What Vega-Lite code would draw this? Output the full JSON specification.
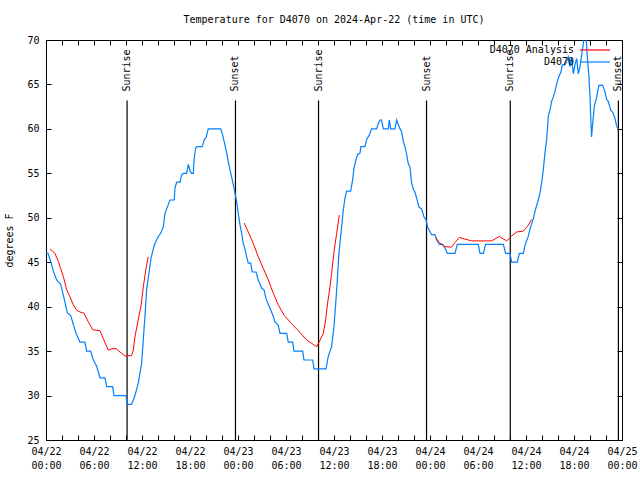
{
  "$schema": "https://vega.github.io/schema/vega-lite/v6.json",
  "autosize": "none",
  "width": 576,
  "height": 400,
  "padding": {"left": 46, "top": 40, "right": 18, "bottom": 40},
  "background": "white",
  "title": {"text": "Temperature for D4070 on 2024-Apr-22 (time in UTC)", "font": "DejaVu Sans Mono", "fontSize": 10, "fontWeight": "normal", "color": "black", "offset": 10, "anchor": "middle"},
  "config": {
    "font": "DejaVu Sans Mono",
    "view": {"stroke": "black", "strokeWidth": 1},
    "axis": {"grid": false, "domainColor": "black", "tickColor": "black", "labelColor": "black", "labelFont": "DejaVu Sans Mono", "labelFontSize": 10, "titleFont": "DejaVu Sans Mono", "titleFontSize": 10, "titleFontWeight": "normal", "titleColor": "black", "tickSize": -5, "domainWidth": 1, "tickWidth": 1, "tickCount": 100}
  },
  "datasets": {
    "blue": [
      {"t": "2024-04-22T00:00:00Z", "v": 46}, {"t": "2024-04-22T00:15:00Z", "v": 46}, {"t": "2024-04-22T00:37:00Z", "v": 45}, {"t": "2024-04-22T00:55:00Z", "v": 44},
      {"t": "2024-04-22T01:20:00Z", "v": 43}, {"t": "2024-04-22T01:50:00Z", "v": 42.5}, {"t": "2024-04-22T02:15:00Z", "v": 41}, {"t": "2024-04-22T02:40:00Z", "v": 39.3},
      {"t": "2024-04-22T03:05:00Z", "v": 39}, {"t": "2024-04-22T03:25:00Z", "v": 38}, {"t": "2024-04-22T03:45:00Z", "v": 37}, {"t": "2024-04-22T04:15:00Z", "v": 36},
      {"t": "2024-04-22T04:52:00Z", "v": 36}, {"t": "2024-04-22T05:05:00Z", "v": 35}, {"t": "2024-04-22T05:35:00Z", "v": 35}, {"t": "2024-04-22T05:55:00Z", "v": 34},
      {"t": "2024-04-22T06:20:00Z", "v": 33.3}, {"t": "2024-04-22T06:45:00Z", "v": 32}, {"t": "2024-04-22T07:22:00Z", "v": 32}, {"t": "2024-04-22T07:35:00Z", "v": 31},
      {"t": "2024-04-22T08:20:00Z", "v": 31}, {"t": "2024-04-22T08:30:00Z", "v": 30}, {"t": "2024-04-22T10:00:00Z", "v": 30}, {"t": "2024-04-22T10:10:00Z", "v": 29},
      {"t": "2024-04-22T10:42:00Z", "v": 29}, {"t": "2024-04-22T11:07:00Z", "v": 30}, {"t": "2024-04-22T11:32:00Z", "v": 31.4}, {"t": "2024-04-22T11:57:00Z", "v": 33.6},
      {"t": "2024-04-22T12:22:00Z", "v": 38.9}, {"t": "2024-04-22T12:35:00Z", "v": 42}, {"t": "2024-04-22T12:55:00Z", "v": 44.1}, {"t": "2024-04-22T13:07:00Z", "v": 45.4},
      {"t": "2024-04-22T13:25:00Z", "v": 46.5}, {"t": "2024-04-22T13:37:00Z", "v": 47.1}, {"t": "2024-04-22T14:02:00Z", "v": 47.9}, {"t": "2024-04-22T14:22:00Z", "v": 48.3},
      {"t": "2024-04-22T14:40:00Z", "v": 49}, {"t": "2024-04-22T14:52:00Z", "v": 50.5}, {"t": "2024-04-22T15:05:00Z", "v": 51}, {"t": "2024-04-22T15:30:00Z", "v": 52},
      {"t": "2024-04-22T16:02:00Z", "v": 52}, {"t": "2024-04-22T16:07:00Z", "v": 53.3}, {"t": "2024-04-22T16:20:00Z", "v": 54}, {"t": "2024-04-22T16:45:00Z", "v": 54},
      {"t": "2024-04-22T16:57:00Z", "v": 54.8}, {"t": "2024-04-22T17:10:00Z", "v": 55}, {"t": "2024-04-22T17:35:00Z", "v": 55}, {"t": "2024-04-22T17:47:00Z", "v": 56},
      {"t": "2024-04-22T18:00:00Z", "v": 55.3}, {"t": "2024-04-22T18:12:00Z", "v": 55}, {"t": "2024-04-22T18:25:00Z", "v": 55}, {"t": "2024-04-22T18:30:00Z", "v": 56.5},
      {"t": "2024-04-22T18:42:00Z", "v": 57.8}, {"t": "2024-04-22T18:50:00Z", "v": 58}, {"t": "2024-04-22T19:32:00Z", "v": 58}, {"t": "2024-04-22T19:47:00Z", "v": 58.8},
      {"t": "2024-04-22T20:00:00Z", "v": 59}, {"t": "2024-04-22T20:17:00Z", "v": 60}, {"t": "2024-04-22T21:50:00Z", "v": 60}, {"t": "2024-04-22T22:05:00Z", "v": 59.3},
      {"t": "2024-04-22T22:22:00Z", "v": 58.2}, {"t": "2024-04-22T22:35:00Z", "v": 57.3}, {"t": "2024-04-22T22:47:00Z", "v": 56.3}, {"t": "2024-04-22T23:00:00Z", "v": 55.4},
      {"t": "2024-04-22T23:12:00Z", "v": 54.6}, {"t": "2024-04-22T23:25:00Z", "v": 53.7}, {"t": "2024-04-22T23:37:00Z", "v": 52.8}, {"t": "2024-04-22T23:50:00Z", "v": 51.8},
      {"t": "2024-04-23T00:02:00Z", "v": 50.5}, {"t": "2024-04-23T00:15:00Z", "v": 49.2}, {"t": "2024-04-23T00:27:00Z", "v": 48.3}, {"t": "2024-04-23T00:40:00Z", "v": 47.1},
      {"t": "2024-04-23T00:52:00Z", "v": 46.5}, {"t": "2024-04-23T01:05:00Z", "v": 45.6}, {"t": "2024-04-23T01:17:00Z", "v": 44.9}, {"t": "2024-04-23T01:35:00Z", "v": 44.9},
      {"t": "2024-04-23T01:47:00Z", "v": 43.9}, {"t": "2024-04-23T02:15:00Z", "v": 43.9}, {"t": "2024-04-23T02:32:00Z", "v": 43}, {"t": "2024-04-23T02:57:00Z", "v": 42.1},
      {"t": "2024-04-23T03:15:00Z", "v": 41.9}, {"t": "2024-04-23T03:30:00Z", "v": 40.9}, {"t": "2024-04-23T03:55:00Z", "v": 40}, {"t": "2024-04-23T04:20:00Z", "v": 39.1},
      {"t": "2024-04-23T04:37:00Z", "v": 38.3}, {"t": "2024-04-23T05:02:00Z", "v": 37.9}, {"t": "2024-04-23T05:15:00Z", "v": 37}, {"t": "2024-04-23T06:05:00Z", "v": 37},
      {"t": "2024-04-23T06:17:00Z", "v": 36}, {"t": "2024-04-23T06:50:00Z", "v": 36}, {"t": "2024-04-23T07:00:00Z", "v": 35}, {"t": "2024-04-23T08:05:00Z", "v": 35},
      {"t": "2024-04-23T08:15:00Z", "v": 34}, {"t": "2024-04-23T09:20:00Z", "v": 34}, {"t": "2024-04-23T09:30:00Z", "v": 33}, {"t": "2024-04-23T11:00:00Z", "v": 33},
      {"t": "2024-04-23T11:17:00Z", "v": 34.4}, {"t": "2024-04-23T11:42:00Z", "v": 35.5}, {"t": "2024-04-23T12:00:00Z", "v": 37.8}, {"t": "2024-04-23T12:15:00Z", "v": 40.8},
      {"t": "2024-04-23T12:25:00Z", "v": 43}, {"t": "2024-04-23T12:37:00Z", "v": 46}, {"t": "2024-04-23T12:50:00Z", "v": 47.9}, {"t": "2024-04-23T13:00:00Z", "v": 49.4},
      {"t": "2024-04-23T13:10:00Z", "v": 50.9}, {"t": "2024-04-23T13:22:00Z", "v": 52.2}, {"t": "2024-04-23T13:35:00Z", "v": 53}, {"t": "2024-04-23T14:05:00Z", "v": 53},
      {"t": "2024-04-23T14:20:00Z", "v": 54.3}, {"t": "2024-04-23T14:30:00Z", "v": 55.6}, {"t": "2024-04-23T14:45:00Z", "v": 56.5}, {"t": "2024-04-23T14:57:00Z", "v": 57.1},
      {"t": "2024-04-23T15:15:00Z", "v": 57.3}, {"t": "2024-04-23T15:22:00Z", "v": 58}, {"t": "2024-04-23T15:52:00Z", "v": 58}, {"t": "2024-04-23T16:05:00Z", "v": 58.8},
      {"t": "2024-04-23T16:25:00Z", "v": 59.3}, {"t": "2024-04-23T16:42:00Z", "v": 60}, {"t": "2024-04-23T17:20:00Z", "v": 60}, {"t": "2024-04-23T17:32:00Z", "v": 60.6},
      {"t": "2024-04-23T17:45:00Z", "v": 61}, {"t": "2024-04-23T17:57:00Z", "v": 61}, {"t": "2024-04-23T18:10:00Z", "v": 60}, {"t": "2024-04-23T18:47:00Z", "v": 60},
      {"t": "2024-04-23T18:55:00Z", "v": 61}, {"t": "2024-04-23T19:05:00Z", "v": 60}, {"t": "2024-04-23T19:37:00Z", "v": 60}, {"t": "2024-04-23T19:50:00Z", "v": 61},
      {"t": "2024-04-23T20:02:00Z", "v": 60.5}, {"t": "2024-04-23T20:15:00Z", "v": 60}, {"t": "2024-04-23T20:27:00Z", "v": 59.7}, {"t": "2024-04-23T20:40:00Z", "v": 58.6},
      {"t": "2024-04-23T20:52:00Z", "v": 58}, {"t": "2024-04-23T21:05:00Z", "v": 57.1}, {"t": "2024-04-23T21:17:00Z", "v": 56.1}, {"t": "2024-04-23T21:30:00Z", "v": 55.7},
      {"t": "2024-04-23T21:42:00Z", "v": 53.9}, {"t": "2024-04-23T21:55:00Z", "v": 53.2}, {"t": "2024-04-23T22:07:00Z", "v": 52.9}, {"t": "2024-04-23T22:20:00Z", "v": 52.2},
      {"t": "2024-04-23T22:37:00Z", "v": 51.2}, {"t": "2024-04-23T22:57:00Z", "v": 51}, {"t": "2024-04-23T23:15:00Z", "v": 50.1}, {"t": "2024-04-23T23:30:00Z", "v": 49.8},
      {"t": "2024-04-23T23:40:00Z", "v": 49}, {"t": "2024-04-23T23:55:00Z", "v": 48.6}, {"t": "2024-04-24T00:12:00Z", "v": 48.1}, {"t": "2024-04-24T00:37:00Z", "v": 48.1},
      {"t": "2024-04-24T00:50:00Z", "v": 47.5}, {"t": "2024-04-24T01:10:00Z", "v": 47}, {"t": "2024-04-24T01:35:00Z", "v": 47}, {"t": "2024-04-24T01:52:00Z", "v": 46.6},
      {"t": "2024-04-24T02:10:00Z", "v": 46}, {"t": "2024-04-24T03:07:00Z", "v": 46}, {"t": "2024-04-24T03:25:00Z", "v": 47}, {"t": "2024-04-24T06:02:00Z", "v": 47},
      {"t": "2024-04-24T06:15:00Z", "v": 46}, {"t": "2024-04-24T06:40:00Z", "v": 46}, {"t": "2024-04-24T06:57:00Z", "v": 47}, {"t": "2024-04-24T09:10:00Z", "v": 47},
      {"t": "2024-04-24T09:27:00Z", "v": 46}, {"t": "2024-04-24T10:00:00Z", "v": 46}, {"t": "2024-04-24T10:12:00Z", "v": 45}, {"t": "2024-04-24T10:55:00Z", "v": 45},
      {"t": "2024-04-24T11:10:00Z", "v": 46}, {"t": "2024-04-24T11:40:00Z", "v": 46}, {"t": "2024-04-24T11:52:00Z", "v": 46.9}, {"t": "2024-04-24T12:17:00Z", "v": 47.9},
      {"t": "2024-04-24T12:35:00Z", "v": 49}, {"t": "2024-04-24T12:55:00Z", "v": 49.9}, {"t": "2024-04-24T13:07:00Z", "v": 50.7}, {"t": "2024-04-24T13:20:00Z", "v": 51.4},
      {"t": "2024-04-24T13:32:00Z", "v": 52}, {"t": "2024-04-24T13:45:00Z", "v": 52.8}, {"t": "2024-04-24T13:57:00Z", "v": 53.9}, {"t": "2024-04-24T14:10:00Z", "v": 55.4},
      {"t": "2024-04-24T14:22:00Z", "v": 57.3}, {"t": "2024-04-24T14:35:00Z", "v": 58.8}, {"t": "2024-04-24T14:47:00Z", "v": 61.4}, {"t": "2024-04-24T15:00:00Z", "v": 62.1},
      {"t": "2024-04-24T15:12:00Z", "v": 63.1}, {"t": "2024-04-24T15:25:00Z", "v": 63.6}, {"t": "2024-04-24T15:37:00Z", "v": 64.2}, {"t": "2024-04-24T15:50:00Z", "v": 65.1},
      {"t": "2024-04-24T16:07:00Z", "v": 65.9}, {"t": "2024-04-24T16:22:00Z", "v": 66.4}, {"t": "2024-04-24T16:32:00Z", "v": 67.2}, {"t": "2024-04-24T16:52:00Z", "v": 67.2},
      {"t": "2024-04-24T17:05:00Z", "v": 67.6}, {"t": "2024-04-24T17:17:00Z", "v": 68.1}, {"t": "2024-04-24T17:30:00Z", "v": 67}, {"t": "2024-04-24T17:42:00Z", "v": 68},
      {"t": "2024-04-24T17:55:00Z", "v": 66.2}, {"t": "2024-04-24T18:07:00Z", "v": 67.2}, {"t": "2024-04-24T18:20:00Z", "v": 67.9}, {"t": "2024-04-24T18:32:00Z", "v": 66.2},
      {"t": "2024-04-24T18:45:00Z", "v": 67}, {"t": "2024-04-24T18:57:00Z", "v": 68.3}, {"t": "2024-04-24T19:10:00Z", "v": 69.6}, {"t": "2024-04-24T19:17:00Z", "v": 70.5},
      {"t": "2024-04-24T19:30:00Z", "v": 70.5}, {"t": "2024-04-24T19:40:00Z", "v": 68.1}, {"t": "2024-04-24T19:52:00Z", "v": 65.9}, {"t": "2024-04-24T20:00:00Z", "v": 63.6},
      {"t": "2024-04-24T20:07:00Z", "v": 60.8}, {"t": "2024-04-24T20:12:00Z", "v": 59.1}, {"t": "2024-04-24T20:20:00Z", "v": 60.6}, {"t": "2024-04-24T20:32:00Z", "v": 62.5},
      {"t": "2024-04-24T20:50:00Z", "v": 63.6}, {"t": "2024-04-24T21:07:00Z", "v": 64.9}, {"t": "2024-04-24T21:35:00Z", "v": 64.9}, {"t": "2024-04-24T21:52:00Z", "v": 64.2},
      {"t": "2024-04-24T22:05:00Z", "v": 63.3}, {"t": "2024-04-24T22:17:00Z", "v": 63.1}, {"t": "2024-04-24T22:35:00Z", "v": 62.1}, {"t": "2024-04-24T22:50:00Z", "v": 61.9},
      {"t": "2024-04-24T23:07:00Z", "v": 61.2}, {"t": "2024-04-24T23:20:00Z", "v": 60.3}, {"t": "2024-04-24T23:32:00Z", "v": 60}
    ],
    "red": [
      {"t": "2024-04-22T00:30:00Z", "v": 46.5, "seg": 1}, {"t": "2024-04-22T01:07:00Z", "v": 46, "seg": 1}, {"t": "2024-04-22T01:32:00Z", "v": 45.1, "seg": 1}, {"t": "2024-04-22T01:50:00Z", "v": 44.3, "seg": 1},
      {"t": "2024-04-22T02:10:00Z", "v": 43.4, "seg": 1}, {"t": "2024-04-22T02:35:00Z", "v": 41.9, "seg": 1}, {"t": "2024-04-22T03:00:00Z", "v": 41.1, "seg": 1}, {"t": "2024-04-22T03:25:00Z", "v": 40.2, "seg": 1},
      {"t": "2024-04-22T03:50:00Z", "v": 39.6, "seg": 1}, {"t": "2024-04-22T04:15:00Z", "v": 39.4, "seg": 1}, {"t": "2024-04-22T04:45:00Z", "v": 39.25, "seg": 1}, {"t": "2024-04-22T05:17:00Z", "v": 38.3, "seg": 1},
      {"t": "2024-04-22T05:50:00Z", "v": 37.4, "seg": 1}, {"t": "2024-04-22T06:45:00Z", "v": 37.3, "seg": 1}, {"t": "2024-04-22T07:10:00Z", "v": 36.4, "seg": 1}, {"t": "2024-04-22T07:47:00Z", "v": 35.1, "seg": 1},
      {"t": "2024-04-22T08:12:00Z", "v": 35.25, "seg": 1}, {"t": "2024-04-22T08:45:00Z", "v": 35.3, "seg": 1}, {"t": "2024-04-22T09:15:00Z", "v": 34.9, "seg": 1}, {"t": "2024-04-22T09:52:00Z", "v": 34.45, "seg": 1},
      {"t": "2024-04-22T10:42:00Z", "v": 34.5, "seg": 1}, {"t": "2024-04-22T10:55:00Z", "v": 35.1, "seg": 1}, {"t": "2024-04-22T11:07:00Z", "v": 36.6, "seg": 1}, {"t": "2024-04-22T11:20:00Z", "v": 37.6, "seg": 1},
      {"t": "2024-04-22T11:37:00Z", "v": 38.95, "seg": 1}, {"t": "2024-04-22T11:52:00Z", "v": 40, "seg": 1}, {"t": "2024-04-22T12:10:00Z", "v": 42.25, "seg": 1}, {"t": "2024-04-22T12:30:00Z", "v": 44.3, "seg": 1},
      {"t": "2024-04-22T12:47:00Z", "v": 45.6, "seg": 1},
      {"t": "2024-04-23T00:47:00Z", "v": 49.4, "seg": 2}, {"t": "2024-04-23T01:17:00Z", "v": 48.4, "seg": 2}, {"t": "2024-04-23T01:55:00Z", "v": 47.1, "seg": 2}, {"t": "2024-04-23T02:32:00Z", "v": 45.6, "seg": 2},
      {"t": "2024-04-23T03:10:00Z", "v": 44.3, "seg": 2}, {"t": "2024-04-23T03:47:00Z", "v": 43, "seg": 2}, {"t": "2024-04-23T04:25:00Z", "v": 41.5, "seg": 2}, {"t": "2024-04-23T05:02:00Z", "v": 40.2, "seg": 2},
      {"t": "2024-04-23T05:47:00Z", "v": 39, "seg": 2}, {"t": "2024-04-23T06:42:00Z", "v": 38.1, "seg": 2}, {"t": "2024-04-23T07:32:00Z", "v": 37.3, "seg": 2}, {"t": "2024-04-23T08:35:00Z", "v": 36.25, "seg": 2},
      {"t": "2024-04-23T09:50:00Z", "v": 35.5, "seg": 2}, {"t": "2024-04-23T10:10:00Z", "v": 36.06, "seg": 2}, {"t": "2024-04-23T10:40:00Z", "v": 37, "seg": 2}, {"t": "2024-04-23T10:57:00Z", "v": 38.5, "seg": 2},
      {"t": "2024-04-23T11:12:00Z", "v": 40.4, "seg": 2}, {"t": "2024-04-23T11:30:00Z", "v": 42.25, "seg": 2}, {"t": "2024-04-23T11:42:00Z", "v": 43.75, "seg": 2}, {"t": "2024-04-23T12:02:00Z", "v": 46.4, "seg": 2},
      {"t": "2024-04-23T12:20:00Z", "v": 48.25, "seg": 2}, {"t": "2024-04-23T12:40:00Z", "v": 50.3, "seg": 2},
      {"t": "2024-04-24T00:42:00Z", "v": 47.8, "seg": 3}, {"t": "2024-04-24T01:10:00Z", "v": 47.2, "seg": 3}, {"t": "2024-04-24T01:52:00Z", "v": 46.75, "seg": 3}, {"t": "2024-04-24T02:42:00Z", "v": 46.7, "seg": 3},
      {"t": "2024-04-24T03:07:00Z", "v": 47.2, "seg": 3}, {"t": "2024-04-24T03:40:00Z", "v": 47.8, "seg": 3}, {"t": "2024-04-24T04:22:00Z", "v": 47.6, "seg": 3}, {"t": "2024-04-24T05:12:00Z", "v": 47.4, "seg": 3},
      {"t": "2024-04-24T07:42:00Z", "v": 47.4, "seg": 3}, {"t": "2024-04-24T08:40:00Z", "v": 47.9, "seg": 3}, {"t": "2024-04-24T09:35:00Z", "v": 47.4, "seg": 3}, {"t": "2024-04-24T10:12:00Z", "v": 47.95, "seg": 3},
      {"t": "2024-04-24T10:50:00Z", "v": 48.4, "seg": 3}, {"t": "2024-04-24T11:40:00Z", "v": 48.5, "seg": 3}, {"t": "2024-04-24T12:10:00Z", "v": 49, "seg": 3}, {"t": "2024-04-24T12:42:00Z", "v": 49.8, "seg": 3}
    ],
    "sun": [
      {"t": "2024-04-22T10:08:00Z", "event": "Sunrise"}, {"t": "2024-04-22T23:41:00Z", "event": "Sunset"},
      {"t": "2024-04-23T10:04:00Z", "event": "Sunrise"}, {"t": "2024-04-23T23:34:00Z", "event": "Sunset"},
      {"t": "2024-04-24T10:02:00Z", "event": "Sunrise"}, {"t": "2024-04-24T23:33:00Z", "event": "Sunset"}
    ]
  },
  "layer": [
    {
      "data": {"name": "sun"},
      "mark": {"type": "rule", "color": "black", "strokeWidth": 1.2},
      "encoding": {
        "x": {"field": "t", "type": "temporal", "scale": {"type": "utc", "nice": false, "domain": [{"year": 2024, "month": 4, "date": 22, "utc": true}, {"year": 2024, "month": 4, "date": 25, "utc": true}]},
          "axis": {"orient": "bottom", "title": null,
            "values": [
              {"year": 2024, "month": 4, "date": 22, "hours": 0, "utc": true}, {"year": 2024, "month": 4, "date": 22, "hours": 2, "utc": true}, {"year": 2024, "month": 4, "date": 22, "hours": 4, "utc": true},
              {"year": 2024, "month": 4, "date": 22, "hours": 6, "utc": true}, {"year": 2024, "month": 4, "date": 22, "hours": 8, "utc": true}, {"year": 2024, "month": 4, "date": 22, "hours": 10, "utc": true},
              {"year": 2024, "month": 4, "date": 22, "hours": 12, "utc": true}, {"year": 2024, "month": 4, "date": 22, "hours": 14, "utc": true}, {"year": 2024, "month": 4, "date": 22, "hours": 16, "utc": true},
              {"year": 2024, "month": 4, "date": 22, "hours": 18, "utc": true}, {"year": 2024, "month": 4, "date": 22, "hours": 20, "utc": true}, {"year": 2024, "month": 4, "date": 22, "hours": 22, "utc": true},
              {"year": 2024, "month": 4, "date": 23, "hours": 0, "utc": true}, {"year": 2024, "month": 4, "date": 23, "hours": 2, "utc": true}, {"year": 2024, "month": 4, "date": 23, "hours": 4, "utc": true},
              {"year": 2024, "month": 4, "date": 23, "hours": 6, "utc": true}, {"year": 2024, "month": 4, "date": 23, "hours": 8, "utc": true}, {"year": 2024, "month": 4, "date": 23, "hours": 10, "utc": true},
              {"year": 2024, "month": 4, "date": 23, "hours": 12, "utc": true}, {"year": 2024, "month": 4, "date": 23, "hours": 14, "utc": true}, {"year": 2024, "month": 4, "date": 23, "hours": 16, "utc": true},
              {"year": 2024, "month": 4, "date": 23, "hours": 18, "utc": true}, {"year": 2024, "month": 4, "date": 23, "hours": 20, "utc": true}, {"year": 2024, "month": 4, "date": 23, "hours": 22, "utc": true},
              {"year": 2024, "month": 4, "date": 24, "hours": 0, "utc": true}, {"year": 2024, "month": 4, "date": 24, "hours": 2, "utc": true}, {"year": 2024, "month": 4, "date": 24, "hours": 4, "utc": true},
              {"year": 2024, "month": 4, "date": 24, "hours": 6, "utc": true}, {"year": 2024, "month": 4, "date": 24, "hours": 8, "utc": true}, {"year": 2024, "month": 4, "date": 24, "hours": 10, "utc": true},
              {"year": 2024, "month": 4, "date": 24, "hours": 12, "utc": true}, {"year": 2024, "month": 4, "date": 24, "hours": 14, "utc": true}, {"year": 2024, "month": 4, "date": 24, "hours": 16, "utc": true},
              {"year": 2024, "month": 4, "date": 24, "hours": 18, "utc": true}, {"year": 2024, "month": 4, "date": 24, "hours": 20, "utc": true}, {"year": 2024, "month": 4, "date": 24, "hours": 22, "utc": true},
              {"year": 2024, "month": 4, "date": 25, "hours": 0, "utc": true}
            ],
            "labelExpr": "utchours(datum.value) % 6 == 0 ? [utcFormat(datum.value, '%m/%d'), utcFormat(datum.value, '%H:%M')] : ''", "labelOverlap": false, "labelFlush": false, "labelPadding": 11, "labelLineHeight": 14}},
        "y": {"datum": 25, "type": "quantitative", "scale": {"domain": [25, 70], "nice": false, "zero": false},
          "axis": {"orient": "left", "title": "degrees F", "format": "d", "values": [25, 30, 35, 40, 45, 50, 55, 60, 65, 70], "labelPadding": 12, "titlePadding": 12}},
        "y2": {"datum": 63.2}
      }
    },
    {
      "data": {"name": "sun"},
      "mark": {"type": "text", "angle": 270, "align": "left", "baseline": "middle", "font": "DejaVu Sans Mono", "fontSize": 10, "color": "black"},
      "encoding": {
        "x": {"field": "t", "type": "temporal",
          "axis": {"orient": "top", "title": null, "labels": false, "domain": false,
            "values": [
              {"year": 2024, "month": 4, "date": 22, "hours": 0, "utc": true}, {"year": 2024, "month": 4, "date": 22, "hours": 2, "utc": true}, {"year": 2024, "month": 4, "date": 22, "hours": 4, "utc": true},
              {"year": 2024, "month": 4, "date": 22, "hours": 6, "utc": true}, {"year": 2024, "month": 4, "date": 22, "hours": 8, "utc": true}, {"year": 2024, "month": 4, "date": 22, "hours": 10, "utc": true},
              {"year": 2024, "month": 4, "date": 22, "hours": 12, "utc": true}, {"year": 2024, "month": 4, "date": 22, "hours": 14, "utc": true}, {"year": 2024, "month": 4, "date": 22, "hours": 16, "utc": true},
              {"year": 2024, "month": 4, "date": 22, "hours": 18, "utc": true}, {"year": 2024, "month": 4, "date": 22, "hours": 20, "utc": true}, {"year": 2024, "month": 4, "date": 22, "hours": 22, "utc": true},
              {"year": 2024, "month": 4, "date": 23, "hours": 0, "utc": true}, {"year": 2024, "month": 4, "date": 23, "hours": 2, "utc": true}, {"year": 2024, "month": 4, "date": 23, "hours": 4, "utc": true},
              {"year": 2024, "month": 4, "date": 23, "hours": 6, "utc": true}, {"year": 2024, "month": 4, "date": 23, "hours": 8, "utc": true}, {"year": 2024, "month": 4, "date": 23, "hours": 10, "utc": true},
              {"year": 2024, "month": 4, "date": 23, "hours": 12, "utc": true}, {"year": 2024, "month": 4, "date": 23, "hours": 14, "utc": true}, {"year": 2024, "month": 4, "date": 23, "hours": 16, "utc": true},
              {"year": 2024, "month": 4, "date": 23, "hours": 18, "utc": true}, {"year": 2024, "month": 4, "date": 23, "hours": 20, "utc": true}, {"year": 2024, "month": 4, "date": 23, "hours": 22, "utc": true},
              {"year": 2024, "month": 4, "date": 24, "hours": 0, "utc": true}, {"year": 2024, "month": 4, "date": 24, "hours": 2, "utc": true}, {"year": 2024, "month": 4, "date": 24, "hours": 4, "utc": true},
              {"year": 2024, "month": 4, "date": 24, "hours": 6, "utc": true}, {"year": 2024, "month": 4, "date": 24, "hours": 8, "utc": true}, {"year": 2024, "month": 4, "date": 24, "hours": 10, "utc": true},
              {"year": 2024, "month": 4, "date": 24, "hours": 12, "utc": true}, {"year": 2024, "month": 4, "date": 24, "hours": 14, "utc": true}, {"year": 2024, "month": 4, "date": 24, "hours": 16, "utc": true},
              {"year": 2024, "month": 4, "date": 24, "hours": 18, "utc": true}, {"year": 2024, "month": 4, "date": 24, "hours": 20, "utc": true}, {"year": 2024, "month": 4, "date": 24, "hours": 22, "utc": true},
              {"year": 2024, "month": 4, "date": 25, "hours": 0, "utc": true}
            ]}},
        "y": {"datum": 64.2, "type": "quantitative",
          "axis": {"orient": "right", "title": null, "labels": false, "domain": false, "values": [25, 30, 35, 40, 45, 50, 55, 60, 65, 70]}},
        "text": {"field": "event"}
      }
    },
    {
      "data": {"name": "blue"},
      "mark": {"type": "line", "strokeWidth": 1.2, "clip": true},
      "encoding": {
        "x": {"field": "t", "type": "temporal", "axis": null},
        "y": {"field": "v", "type": "quantitative", "axis": null},
        "color": {"datum": "D4070", "type": "nominal", "scale": {"domain": ["D4070 Analysis", "D4070"], "range": ["#ff0000", "#0080ff"]},
          "legend": {"orient": "none", "legendX": 543, "legendY": 4, "title": null, "symbolType": "M-3,0H3", "symbolSize": 100, "symbolStrokeWidth": 1.2, "labelAlign": "right", "labelOffset": -27, "labelFont": "DejaVu Sans Mono", "labelFontSize": 10, "labelColor": "black", "rowPadding": 1, "padding": 0}}
      }
    },
    {
      "data": {"name": "red"},
      "mark": {"type": "line", "strokeWidth": 1, "clip": true},
      "encoding": {
        "x": {"field": "t", "type": "temporal", "axis": null},
        "y": {"field": "v", "type": "quantitative", "axis": null},
        "detail": {"field": "seg"},
        "color": {"datum": "D4070 Analysis", "type": "nominal"}
      }
    }
  ]
}
